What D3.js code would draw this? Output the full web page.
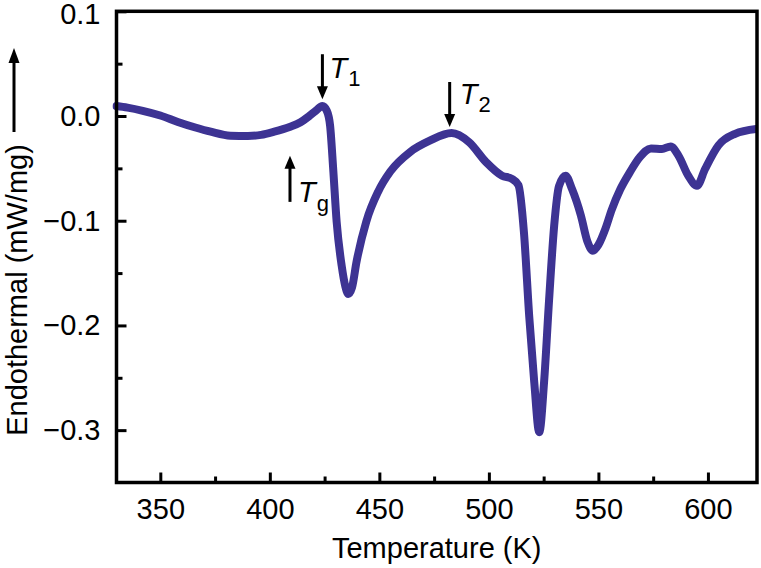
<!DOCTYPE html>
<html>
<head>
<meta charset="utf-8">
<script src="https://cdn.jsdelivr.net/npm/d3@7"></script>
<style>
  html, body { margin: 0; padding: 0; background: #fff; }
  svg { display: block; font-family: "Liberation Sans", Arial, Helvetica, sans-serif; }
</style>
</head>
<body>
<svg id="chart" width="761" height="568"></svg>
<script>
// ---- data ----
const temperature = [330, 335, 342, 350, 358, 366, 373, 382, 390, 396, 402, 409, 414, 418, 421, 424, 426, 427.5, 429, 430.5, 432.8, 434.5, 435.8, 437.5, 439.6, 444, 449.5, 455, 464, 473, 483, 491, 498.7, 506, 510.5, 513.5, 516, 518.4, 520.7, 523, 525.2, 527.5, 529.8, 532, 535, 538, 542, 545, 547.5, 550, 553.3, 556, 560, 564, 569, 574, 579, 583, 586.6, 591, 595, 598.7, 604.8, 612.4, 622];
const heatFlow = [0.0095, 0.008, 0.005, 0.0005, -0.0057, -0.011, -0.015, -0.0188, -0.019, -0.018, -0.015, -0.0105, -0.006, 0.0, 0.005, 0.0095, 0.005, -0.009, -0.053, -0.101, -0.143, -0.163, -0.170, -0.164, -0.139, -0.101, -0.072, -0.053, -0.0344, -0.0236, -0.0162, -0.025, -0.044, -0.057, -0.060, -0.066, -0.111, -0.191, -0.254, -0.302, -0.254, -0.175, -0.105, -0.067, -0.057, -0.070, -0.095, -0.120, -0.1286, -0.123, -0.107, -0.090, -0.070, -0.055, -0.039, -0.031, -0.0315, -0.029, -0.038, -0.057, -0.0666, -0.0506, -0.028, -0.017, -0.0124];

const xMajorTicks = [350, 400, 450, 500, 550, 600];
const xMinorTicks = [375, 425, 475, 525, 575];
const yMajorTicks = [0.1, 0.0, -0.1, -0.2, -0.3];
const yMinorTicks = [0.05, -0.05, -0.15, -0.25];
const yTickLabels = ["0.1", "0.0", "\u22120.1", "\u22120.2", "\u22120.3"];

// annotations: label, subscript, arrow x (K), arrow tail value, arrow tip value
const annotLabels = ["T", "T", "T"];
const annotSubs = ["1", "2", "g"];
const annotT = [424, 482.1, 409.2];
const annotTail = [0.059, 0.0325, -0.082];
const annotTip = [0.016, -0.0105, -0.038];

// ---- layout ----
const mLeft = 116.5, mRight = 757, mTop = 11.3, mBottom = 482.5;
const lineColor = "#3d3393";

const svg = d3.select("#chart");
const x = d3.scaleLinear().domain([330, 622.4]).range([mLeft, mRight]);
const y = d3.scaleLinear().domain([-0.35, 0.1]).range([mBottom, mTop]);

// curve
const pts = temperature.map((t, i) => [t, heatFlow[i]]);
const line = d3.line().x(d => x(d[0])).y(d => y(d[1])).curve(d3.curveMonotoneX);

svg.append("clipPath").attr("id", "clip").append("rect")
  .attr("x", mLeft - 4).attr("y", mTop).attr("width", mRight - mLeft + 4).attr("height", mBottom - mTop);

svg.append("path").datum(pts)
  .attr("d", line)
  .attr("fill", "none")
  .attr("stroke", lineColor)
  .attr("stroke-width", 8)
  .attr("stroke-linecap", "round")
  .attr("stroke-linejoin", "round")
  .attr("clip-path", "url(#clip)");

// axes with inward ticks
const fs = 29;
const xAxisMajor = d3.axisBottom(x).tickValues(xMajorTicks).tickSize(-10).tickFormat(d3.format("d"));
const gx = svg.append("g").attr("transform", `translate(0,${mBottom})`).call(xAxisMajor);
gx.select(".domain").remove();
gx.selectAll(".tick line").attr("stroke", "#000").attr("stroke-width", 3);
gx.selectAll(".tick text").attr("font-size", fs).attr("fill", "#000").attr("y", 15.5).attr("dy", "0.71em")
  .attr("font-family", "Liberation Sans, Arial, sans-serif");

const xAxisMinor = d3.axisBottom(x).tickValues(xMinorTicks).tickSize(-6).tickFormat("");
const gxm = svg.append("g").attr("transform", `translate(0,${mBottom})`).call(xAxisMinor);
gxm.select(".domain").remove();
gxm.selectAll(".tick line").attr("stroke", "#000").attr("stroke-width", 3);

const yAxisMajor = d3.axisLeft(y).tickValues(yMajorTicks).tickSize(-10).tickFormat((d, i) => yTickLabels[i]);
const gy = svg.append("g").attr("transform", `translate(${mLeft},0)`).call(yAxisMajor);
gy.select(".domain").remove();
gy.selectAll(".tick line").attr("stroke", "#000").attr("stroke-width", 3);
gy.selectAll(".tick text").attr("font-size", fs).attr("fill", "#000").attr("x", -16)
  .attr("y", (d, i) => i === 0 ? 2.5 : 0)
  .attr("font-family", "Liberation Sans, Arial, sans-serif");

const yAxisMinor = d3.axisLeft(y).tickValues(yMinorTicks).tickSize(-6).tickFormat("");
const gym = svg.append("g").attr("transform", `translate(${mLeft},0)`).call(yAxisMinor);
gym.select(".domain").remove();
gym.selectAll(".tick line").attr("stroke", "#000").attr("stroke-width", 3);

// frame
svg.append("rect")
  .attr("x", mLeft).attr("y", mTop).attr("width", mRight - mLeft).attr("height", mBottom - mTop)
  .attr("fill", "none").attr("stroke", "#000").attr("stroke-width", 3.5);

// axis titles
svg.append("text")
  .attr("x", (mLeft + mRight) / 2).attr("y", 558)
  .attr("text-anchor", "middle").attr("font-size", fs)
  .text("Temperature (K)");

svg.append("text")
  .attr("transform", `translate(26.5,${290}) rotate(-90)`)
  .attr("text-anchor", "middle").attr("font-size", fs)
  .text("Endothermal (mW/mg)");

// arrow helper
function arrow(x0, y0, x1, y1, headLen, headW, sw) {
  const dx = x1 - x0, dy = y1 - y0, L = Math.hypot(dx, dy);
  const ux = dx / L, uy = dy / L;
  const bx = x1 - ux * headLen, by = y1 - uy * headLen;
  svg.append("line").attr("x1", x0).attr("y1", y0).attr("x2", bx + ux * 1).attr("y2", by + uy * 1)
    .attr("stroke", "#000").attr("stroke-width", sw);
  svg.append("path")
    .attr("d", `M${x1},${y1} L${bx - uy * headW / 2},${by + ux * headW / 2} L${bx + uy * headW / 2},${by - ux * headW / 2} Z`)
    .attr("fill", "#000");
}

// y-axis title arrow
arrow(14, 132, 14, 48, 15, 11, 3);

// annotations
annotT.forEach((t, i) => {
  const ax = x(t);
  arrow(ax, y(annotTail[i]), ax, y(annotTip[i]), 13, 11, 3);
});

function label(px, py, main, sub, subDy) {
  const tx = svg.append("text").attr("x", px).attr("y", py).attr("font-size", fs);
  tx.append("tspan").attr("font-style", "italic").text(main);
  tx.append("tspan").attr("font-size", 22).attr("dx", 1).attr("dy", subDy).text(sub);
}
// T1
label(x(annotT[0]) + 7, y(annotTail[0]) + 24, annotLabels[0], annotSubs[0], 8);
// T2
label(x(annotT[1]) + 10, y(annotTail[1]) + 22, annotLabels[1], annotSubs[1], 8);
// Tg
label(x(annotT[2]) + 8, y(annotTail[2]), annotLabels[2], annotSubs[2], 9);
</script>
</body>
</html>
